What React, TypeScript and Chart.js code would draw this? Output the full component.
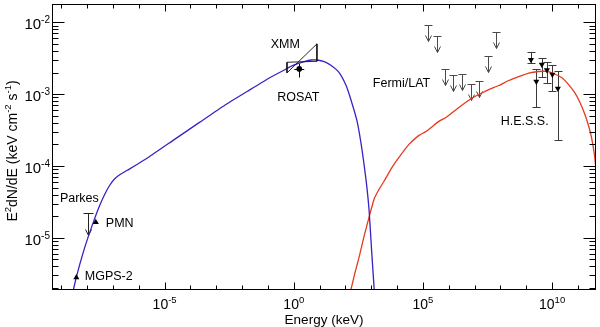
import React, { useEffect, useRef } from 'react';
import { Chart, registerables } from 'chart.js';

Chart.register(...registerables);

// ---- axis ranges (keV, keV cm^-2 s^-1) ----
const X_MIN = 4.37e-10;
const X_MAX = 5.0e11;
const Y_MIN = 1.88e-6;
const Y_MAX = 1.8e-2;

const xTickExponents = [-5, 0, 5, 10];
const yTickExponents = [-5, -4, -3, -2];

// ---- synchrotron model (blue) ----
const syncEnergy = [2.75e-9, 3.66e-9, 5.22e-9, 8.15e-9, 1.27e-8, 1.98e-8, 3.09e-8, 4.82e-8, 7.52e-8, 1.17e-7, 1.83e-7, 4.46e-7, 2.64e-6, 2.43e-5, 2.24e-4, 2.07e-3, 1.91e-2, 0.113, 0.43, 1.045, 2.54, 4.74, 8.07, 15.1, 28.1, 57.1, 106, 166, 283, 442, 630, 822, 1028, 1227, 1340];
const syncFlux = [1.71e-6, 2.67e-6, 4.31e-6, 7.43e-6, 1.2e-5, 1.88e-5, 2.84e-5, 4.05e-5, 5.4e-5, 6.64e-5, 7.55e-5, 9.14e-5, 1.36e-4, 2.35e-4, 4.05e-4, 6.97e-4, 1.14e-3, 1.68e-3, 2.17e-3, 2.55e-3, 2.84e-3, 2.99e-3, 2.99e-3, 2.84e-3, 2.51e-3, 2.0e-3, 1.32e-3, 8.18e-4, 4.18e-4, 1.65e-4, 6.32e-5, 2.43e-5, 6.75e-6, 2.58e-6, 1.6e-6];

// ---- inverse Compton model (red) ----
const icEnergy = [145, 237, 338, 527, 822, 1282, 2000, 3119, 6353, 1.18e4, 2.88e4, 7.01e4, 1.31e5, 4.15e5, 7.73e5, 2.45e6, 6.53e6, 1.45e7, 3.53e7, 8.59e7, 2.09e8, 5.09e8, 1.24e9, 3.01e9, 6.14e9, 1.25e10, 2.33e10, 4.34e10, 7.4e10, 1.15e11, 1.8e11, 2.56e11, 3.35e11, 4.38e11, 5.22e11, 6.24e11];
const icFlux = [1.6e-6, 3.34e-6, 5.39e-6, 1.06e-5, 1.94e-5, 3.45e-5, 4.74e-5, 6.13e-5, 9.59e-5, 1.32e-4, 2.0e-4, 2.67e-4, 3.03e-4, 4.18e-4, 4.74e-4, 6.53e-4, 8.43e-4, 9.91e-4, 1.16e-3, 1.32e-3, 1.55e-3, 1.76e-3, 1.97e-3, 2.07e-3, 2.07e-3, 1.91e-3, 1.71e-3, 1.36e-3, 1.06e-3, 7.93e-4, 5.4e-4, 3.67e-4, 2.51e-4, 1.41e-4, 8.18e-5, 3.92e-5];

// ---- radio ----
const radioEnergy = [3.83e-9, 2.17e-8]; // MGPS-2, PMN
const radioFlux = [2.8e-6, 1.65e-5];
const parkesEnergy = [1.09e-8];
const parkesUL = [2.22e-5];

// ---- X-ray ----
const xmmBowEnergy = [0.546, 7.87, 7.87, 0.546, 0.546];
const xmmBowFlux = [1.98e-3, 5.01e-3, 2.87e-3, 2.78e-3, 1.98e-3];
const rosatEnergy = [1.63];
const rosatFlux = [2.25e-3];
const rosatEnergyLo = [1.05];
const rosatEnergyHi = [2.54];
const rosatFluxLo = [1.72e-3];
const rosatFluxHi = [2.7e-3];

// ---- Fermi/LAT upper limits ----
const fermiEnergy = [1.56e5, 3.38e5, 7.07e5, 1.48e6, 3.12e6, 6.95e6, 1.45e7, 3.24e7, 7.01e7];
const fermiUL = [9.29e-3, 6.4e-3, 2.25e-3, 1.84e-3, 1.88e-3, 1.39e-3, 1.52e-3, 3.37e-3, 7.26e-3];

// ---- H.E.S.S. ----
const hessEnergy = [1.52e9, 2.45e9, 4.0e9, 6.3e9, 1.02e10, 1.67e10];
const hessFlux = [3.01e-3, 1.5e-3, 2.58e-3, 2.17e-3, 1.88e-3, 1.2e-3];
const hessFluxHi = [3.83e-3, 2.25e-3, 3.21e-3, 2.82e-3, 2.51e-3, 2.1e-3];
const hessFluxLo = [2.75e-3, 6.64e-4, 1.71e-3, 1.45e-3, 1.09e-3, 2.33e-4];

// ---- annotations ----
const labelTexts = ['XMM', 'ROSAT', 'Fermi/LAT', 'H.E.S.S.', 'Parkes', 'PMN', 'MGPS-2'];
const labelEnergy = [0.47, 1.49, 1.48e4, 8.67e8, 5.0e-9, 1.83e-7, 6.89e-8];
const labelFlux = [4.9e-3, 9.0e-4, 1.41e-3, 4.18e-4, 3.56e-5, 1.6e-5, 2.85e-6];

const FONT = '"Liberation Sans", Arial, Helvetica, sans-serif';
const BLUE = '#3a22c4';
const RED = '#e8391d';

const pts = (xs: number[], ys: number[]) => xs.map((x, i) => ({ x, y: ys[i] }));

function crisp(v: number) {
  return Math.round(v) + 0.5;
}

function drawUL(ctx: CanvasRenderingContext2D, px: number, py: number, len: number, cap: number) {
  const x = crisp(px);
  const y = crisp(py);
  ctx.beginPath();
  ctx.moveTo(x - cap, y);
  ctx.lineTo(x + cap, y);
  ctx.moveTo(x, y);
  ctx.lineTo(x, y + len);
  ctx.moveTo(x - 3, y + len - 6);
  ctx.lineTo(x, y + len);
  ctx.lineTo(x + 3, y + len - 6);
  ctx.stroke();
}

function drawSegments(ctx: CanvasRenderingContext2D, segs: [string, boolean][], startX: number, baseY: number, mainSize: number, supSize: number, supRaise: number) {
  let x = startX;
  for (const [t, sup] of segs) {
    ctx.font = `${sup ? supSize : mainSize}px ${FONT}`;
    ctx.fillText(t, x, sup ? baseY - supRaise : baseY);
    x += ctx.measureText(t).width;
  }
}

function segWidth(ctx: CanvasRenderingContext2D, segs: [string, boolean][], mainSize: number, supSize: number) {
  let w = 0;
  for (const [t, sup] of segs) {
    ctx.font = `${sup ? supSize : mainSize}px ${FONT}`;
    w += ctx.measureText(t).width;
  }
  return w;
}

const overlayPlugin = {
  id: 'overlay',
  beforeDatasetsDraw(chart: any) {
    const ctx: CanvasRenderingContext2D = chart.ctx;
    const xs = chart.scales.x;
    const ys = chart.scales.y;
    ctx.save();
    ctx.lineWidth = 1;
    // Fermi upper limits
    ctx.strokeStyle = '#4a4a4a';
    fermiEnergy.forEach((e, i) => drawUL(ctx, xs.getPixelForValue(e), ys.getPixelForValue(fermiUL[i]), 16, 4));
    // Parkes upper limit
    ctx.strokeStyle = '#222';
    parkesEnergy.forEach((e, i) => drawUL(ctx, xs.getPixelForValue(e), ys.getPixelForValue(parkesUL[i]), 22, 5));
    // HESS error bars
    ctx.strokeStyle = '#3a3a3a';
    hessEnergy.forEach((e, i) => {
      const x = crisp(xs.getPixelForValue(e));
      const yh = crisp(ys.getPixelForValue(hessFluxHi[i]));
      const yl = crisp(ys.getPixelForValue(hessFluxLo[i]));
      ctx.beginPath();
      ctx.moveTo(x, yh);
      ctx.lineTo(x, yl);
      ctx.moveTo(x - 4, yh);
      ctx.lineTo(x + 4, yh);
      ctx.moveTo(x - 4, yl);
      ctx.lineTo(x + 4, yl);
      ctx.stroke();
    });
    // ROSAT error bars
    ctx.strokeStyle = '#000';
    rosatEnergy.forEach((e, i) => {
      const x = crisp(xs.getPixelForValue(e));
      const y = crisp(ys.getPixelForValue(rosatFlux[i]));
      ctx.beginPath();
      ctx.moveTo(x, crisp(ys.getPixelForValue(rosatFluxHi[i])));
      ctx.lineTo(x, crisp(ys.getPixelForValue(rosatFluxLo[i])));
      ctx.moveTo(xs.getPixelForValue(rosatEnergyLo[i]), y);
      ctx.lineTo(xs.getPixelForValue(rosatEnergyHi[i]), y);
      ctx.stroke();
    });
    ctx.restore();
  },
  afterDraw(chart: any) {
    const ctx: CanvasRenderingContext2D = chart.ctx;
    const xs = chart.scales.x;
    const ys = chart.scales.y;
    const a = chart.chartArea;
    ctx.save();
    // frame
    ctx.strokeStyle = '#000';
    ctx.lineWidth = 1;
    const L = Math.round(a.left) + 0.5;
    const R = Math.round(a.right) - 0.5;
    const T = Math.round(a.top) + 0.5;
    const B = Math.round(a.bottom) - 0.5;
    ctx.strokeRect(L, T, R - L, B - T);
    // x ticks (every decade, long every 5)
    ctx.beginPath();
    for (let k = Math.ceil(Math.log10(X_MIN)); k <= Math.floor(Math.log10(X_MAX)); k++) {
      const x = crisp(xs.getPixelForValue(Math.pow(10, k)));
      const len = k % 5 === 0 ? 7 : 4;
      ctx.moveTo(x, B);
      ctx.lineTo(x, B - len);
      ctx.moveTo(x, T);
      ctx.lineTo(x, T + len);
    }
    // y ticks (decades + minor)
    for (let d = Math.floor(Math.log10(Y_MIN)); d <= Math.ceil(Math.log10(Y_MAX)); d++) {
      for (let m = 1; m <= 9; m++) {
        const v = m * Math.pow(10, d);
        if (v < Y_MIN || v > Y_MAX) continue;
        const y = crisp(ys.getPixelForValue(v));
        const len = m === 1 ? 12 : 6;
        ctx.moveTo(L, y);
        ctx.lineTo(L + len, y);
        ctx.moveTo(R, y);
        ctx.lineTo(R - len, y);
      }
    }
    ctx.stroke();

    ctx.fillStyle = '#000';
    ctx.textAlign = 'left';
    ctx.textBaseline = 'alphabetic';
    // x tick labels
    xTickExponents.forEach((k) => {
      const segs: [string, boolean][] = [['10', false], [String(k), true]];
      const w = segWidth(ctx, segs, 14, 9.5);
      const px = xs.getPixelForValue(Math.pow(10, k));
      drawSegments(ctx, segs, px - w / 2, B + 19, 14, 9.5, 6);
    });
    // y tick labels
    yTickExponents.forEach((k) => {
      const segs: [string, boolean][] = [['10', false], [String(k), true]];
      const w = segWidth(ctx, segs, 15, 10);
      const py = ys.getPixelForValue(Math.pow(10, k));
      drawSegments(ctx, segs, a.left - 2 - w, py + 7, 15, 10, 6);
    });
    // x title
    ctx.font = `13.5px ${FONT}`;
    ctx.textAlign = 'center';
    ctx.fillText('Energy (keV)', (a.left + a.right) / 2, 324);
    // y title
    ctx.textAlign = 'left';
    const ySegs: [string, boolean][] = [['E', false], ['2', true], ['dN/dE (keV cm', false], ['-2', true], [' s', false], ['-1', true], [')', false]];
    const yw = segWidth(ctx, ySegs, 14, 9.5);
    ctx.save();
    ctx.translate(12, 151);
    ctx.rotate(-Math.PI / 2);
    drawSegments(ctx, ySegs, -yw / 2, 5, 14, 9.5, 6);
    ctx.restore();
    // annotations
    ctx.font = `12.5px ${FONT}`;
    ctx.textAlign = 'center';
    ctx.textBaseline = 'middle';
    labelTexts.forEach((t, i) => {
      ctx.fillText(t, xs.getPixelForValue(labelEnergy[i]), ys.getPixelForValue(labelFlux[i]));
    });
    ctx.restore();
  },
};

export default function App() {
  const canvasRef = useRef<HTMLCanvasElement | null>(null);
  useEffect(() => {
    document.body.style.margin = '0';
    const canvas = canvasRef.current;
    if (!canvas) return;
    const chart = new Chart(canvas, {
      type: 'scatter',
      data: {
        datasets: [
          { label: 'MGPS-2 / PMN', data: pts(radioEnergy, radioFlux), pointStyle: 'triangle', pointRadius: 3.5, backgroundColor: '#000', borderColor: '#000', borderWidth: 0 },
          { label: 'H.E.S.S.', data: pts(hessEnergy, hessFlux), pointStyle: 'triangle', rotation: 180, pointRadius: 3.5, backgroundColor: '#000', borderColor: '#000', borderWidth: 0 },
          { label: 'ROSAT', data: pts(rosatEnergy, rosatFlux), pointStyle: 'circle', pointRadius: 2.8, backgroundColor: '#000', borderColor: '#000', borderWidth: 0 },
          { label: 'XMM', data: pts(xmmBowEnergy, xmmBowFlux), showLine: true, pointRadius: 0, borderColor: '#111', borderWidth: 0.9, fill: false },
          { label: 'Synchrotron', data: pts(syncEnergy, syncFlux), showLine: true, pointRadius: 0, borderColor: BLUE, borderWidth: 1.3, tension: 0.15, fill: false },
          { label: 'Inverse Compton', data: pts(icEnergy, icFlux), showLine: true, pointRadius: 0, borderColor: RED, borderWidth: 1.3, tension: 0.15, fill: false },
        ],
      },
      options: {
        animation: false,
        responsive: false,
        maintainAspectRatio: false,
        events: [],
        layout: { padding: { left: 52, right: 2, top: 3, bottom: 37 } },
        plugins: { legend: { display: false }, tooltip: { enabled: false } },
        scales: {
          x: { type: 'logarithmic', min: X_MIN, max: X_MAX, bounds: 'data', display: false },
          y: { type: 'logarithmic', min: Y_MIN, max: Y_MAX, bounds: 'data', display: false },
        },
      },
      plugins: [overlayPlugin],
    } as any);
    return () => chart.destroy();
  }, []);
  return (
    <div style={{ width: 600, height: 327, background: '#fff' }}>
      <canvas ref={canvasRef} width={600} height={327} style={{ display: 'block' }} />
    </div>
  );
}
